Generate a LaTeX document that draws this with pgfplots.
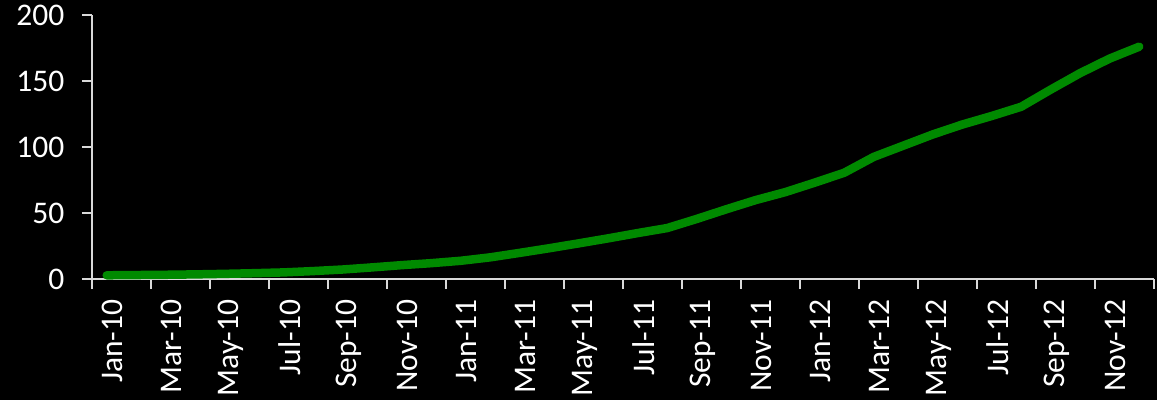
\documentclass[border=0pt]{standalone}
\usepackage{fontspec}
\setmainfont{Carlito}
\usepackage{pgfplots}
\pgfplotsset{compat=1.18}
\definecolor{lgreen}{RGB}{0,138,0}
\definecolor{axgray}{RGB}{217,217,217}
\begin{document}
\fontsize{31.5bp}{36bp}\selectfont
\begin{tikzpicture}
\useasboundingbox (-92bp,-121bp) rectangle (1065bp,279bp);
\fill[black] (-92bp,-121bp) rectangle (1065bp,279bp);
\begin{axis}[
  at={(0,0)}, anchor=south west,
  width=1062bp, height=264bp, scale only axis,
  xmin=-0.5, xmax=35.5, ymin=0, ymax=200,
  axis lines*=left,
  axis line style={axgray, line width=1.2bp},
  ytick={0,50,100,150,200},
  xtick={0,2,...,34},
  xticklabels={Jan-10,Mar-10,May-10,Jul-10,Sep-10,Nov-10,Jan-11,Mar-11,May-11,Jul-11,Sep-11,Nov-11,Jan-12,Mar-12,May-12,Jul-12,Sep-12,Nov-12},
  minor xtick={-0.5,1.5,...,35.5},
  tick align=outside,
  major tick length=10bp,
  minor tick length=10bp,
  major x tick style={draw=none},
  minor x tick style={axgray, line width=1.2bp},
  major y tick style={axgray, line width=1.2bp},
  xticklabel style={rotate=90, anchor=east, text=white, yshift=-6bp, font=\fontsize{31.5bp}{36bp}\selectfont},
  yticklabel style={text=white, xshift=-7bp, font=\fontsize{31.5bp}{36bp}\selectfont},
  /pgf/number format/assume math mode=true,
  clip=false,
]
\addplot[lgreen, line width=8.5bp, line cap=round, line join=round] coordinates {
(0,2.8) (1,3.0) (2,3.2) (3,3.5) (4,3.9) (5,4.4) (6,5.0) (7,6.0) (8,7.2) (9,8.8)
(10,10.5) (11,12.0) (12,13.8) (13,16.4) (14,19.8) (15,23.3) (16,27.0) (17,30.8)
(18,34.8) (19,38.6) (20,45.5) (21,52.8) (22,59.8) (23,65.8) (24,73.0) (25,80.5)
(26,92.5) (27,101.0) (28,109.5) (29,117.0) (30,123.5) (31,130.5) (32,143.5)
(33,156.0) (34,167.0) (35,176.0)
};
\end{axis}
\end{tikzpicture}
\end{document}
